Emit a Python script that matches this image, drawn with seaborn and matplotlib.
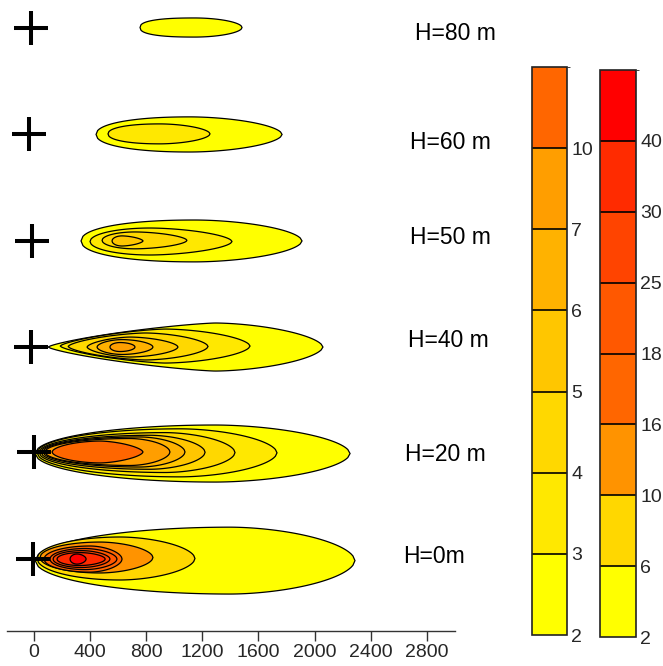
import numpy as np
import matplotlib
matplotlib.use("Agg")
import matplotlib.pyplot as plt
from matplotlib.colors import ListedColormap, BoundaryNorm
from matplotlib.cm import ScalarMappable
import seaborn as sns

sns.set_style("ticks")
plt.rcParams["font.family"] = ["Liberation Sans", "DejaVu Sans"]

# ---------------- data ----------------
labels = ["H=0m", "H=20 m", "H=40 m", "H=50 m", "H=60 m", "H=80 m"]
row_y = [512, 1274, 2021, 2776, 3534, 4295]          # plume axis (m)
source_x = [-4, 0, -18, -13, -32, -18]               # stack position (m)
label_x = [2850, 2929, 2950, 2964, 2964, 3000]
label_y = [527, 1253, 2064, 2797, 3480, 4249]

x_ticks = [0, 400, 800, 1200, 1600, 2000, 2400, 2800]

# colour scales
left_bounds = [2, 3, 4, 5, 6, 7, 10, 14]
left_colors = ["#FFFF00", "#FFE800", "#FFD800", "#FFC600", "#FFB200", "#FF9E00", "#FF6600"]
right_bounds = [2, 6, 10, 16, 18, 25, 30, 40, 50]
right_colors = ["#FFFF00", "#FFD700", "#FF9300", "#FF6600", "#FF5800", "#FF4400", "#FF2B00", "#FF0000"]

# contour shapes: (level, x_start, x_end, x_peak, half_width, y_shift, p_left, p_right)
plume_H0 = [
    (2, 11, 2288, 1399, 238, -11, 2.0, 1.8),
    (6, 25, 1149, 616, 153, 4, 2.0, 1.8),
    (10, 46, 850, 473, 110, 11, 2.0, 1.8),
    (16, 75, 630, 402, 93, 0, 2.0, 1.8),
    (18, 117, 594, 367, 75, 0, 2.0, 1.8),
    (25, 139, 544, 345, 60, 0, 2.0, 1.8),
    (30, 167, 510, 331, 46, 0, 2.0, 1.8),
    (40, 260, 374, 310, 36, 0, 2.0, 1.8),
]
plume_H20 = [
    (2, 11, 2253, 1292, 203, -11, 2.0, 1.8),
    (3, 25, 1733, 1043, 171, -6, 2.0, 1.8),
    (4, 39, 1434, 936, 142, -4, 2.0, 1.8),
    (5, 53, 1221, 829, 121, -2, 2.0, 1.8),
    (6, 68, 1078, 758, 107, 0, 2.0, 1.8),
    (7, 82, 971, 687, 96, 0, 2.0, 1.8),
    (10, 132, 779, 473, 78, 0, 1.8, 1.6),
]
plume_H40 = [
    (2, 103, 2060, 1292, 171, 0, 1.3, 1.7),
    (3, 189, 1541, 936, 121, 7, 1.4, 1.7),
    (4, 246, 1242, 794, 96, 4, 1.5, 1.7),
    (5, 381, 1028, 687, 71, 0, 1.6, 1.7),
    (6, 452, 850, 630, 53, 0, 1.8, 1.8),
    (7, 544, 722, 616, 32, 0, 2.0, 1.9),
]
plume_H50 = [
    (2, 338, 1911, 1149, 149, 0, 2.2, 1.8),
    (3, 402, 1413, 829, 96, -4, 2.0, 1.7),
    (4, 488, 1092, 722, 60, 4, 2.0, 1.7),
    (5, 559, 779, 630, 36, 0, 2.0, 1.6),
]
plume_H60 = [
    (2, 445, 1769, 1114, 125, 0, 2.2, 1.8),
    (3, 530, 1256, 900, 71, 4, 2.2, 1.8),
]
plume_H80 = [
    (2, 758, 1484, 1149, 68, 0, 2.5, 1.9),
]

plumes = [plume_H0, plume_H20, plume_H40, plume_H50, plume_H60, plume_H80]
plume_scale = ["right", "left", "left", "left", "left", "left"]

# ---------------- figure ----------------
W, H = 663, 666
fig = plt.figure(figsize=(W / 100, H / 100), dpi=100)
ax = fig.add_axes([7 / W, 35 / H, 448 / W, 631 / H])


def outline(x0, x1, xp, hw, yc, pl, pr, n=120):
    u = np.linspace(-1, 1, n)
    x = np.where(u < 0, xp + u * (xp - x0), xp + u * (x1 - xp))
    p = np.where(u < 0, pl, pr)
    w = hw * np.clip(1 - np.abs(u) ** p, 0, 1) ** (1 / p)
    xs = np.concatenate([x, x[::-1]])
    ys = np.concatenate([yc + w, (yc - w)[::-1]])
    return xs, ys


for plume, yrow, scale in zip(plumes, row_y, plume_scale):
    bounds = right_bounds if scale == "right" else left_bounds
    cols = right_colors if scale == "right" else left_colors
    for lev, x0, x1, xp, hw, dy, pl, pr in plume:
        xs, ys = outline(x0, x1, xp, hw, yrow + dy, pl, pr)
        ax.fill(xs, ys, facecolor=cols[bounds.index(lev)], edgecolor="black",
                linewidth=0.9, zorder=2)

ax.plot(source_x, row_y, linestyle="none", marker="+", markersize=24.5,
        markeredgewidth=2.9, color="black", zorder=5, clip_on=False)

for lab, lx, ly in zip(labels, label_x, label_y):
    ax.text(lx, ly, lab, ha="center", va="center", fontsize=16.5,
            color="black", clip_on=False)

ax.set_xlim(-189, 3000)
ax.set_ylim(0, 631 * 7.117)
ax.set_xticks(x_ticks)
ax.set_xticklabels([str(t) for t in x_ticks])
ax.set_yticks([])
ax.tick_params(axis="x", direction="out", length=7, width=1, labelsize=14,
               pad=2.5, color="#333333")
sns.despine(ax=ax, left=True, top=True, right=True)
ax.spines["bottom"].set_linewidth(1)
ax.spines["bottom"].set_color("#333333")
ax.set_facecolor("white")


def add_cbar(rect, bounds, colors):
    cax = fig.add_axes(rect)
    cmap = ListedColormap(colors)
    norm = BoundaryNorm(bounds, cmap.N)
    cb = fig.colorbar(ScalarMappable(norm=norm, cmap=cmap), cax=cax,
                      boundaries=bounds, spacing="uniform", drawedges=True,
                      ticks=bounds[:-1])
    cb.ax.set_yticklabels([str(b) for b in bounds[:-1]])
    cb.ax.tick_params(length=0, labelsize=14, pad=3)
    cb.outline.set_linewidth(1.2)
    cb.outline.set_edgecolor("#222222")
    cb.dividers.set_color("black")
    cb.dividers.set_linewidth(1.2)
    return cb


add_cbar([532 / W, (H - 635) / H, 35 / W, 568 / H], left_bounds, left_colors)
add_cbar([600 / W, (H - 637) / H, 36 / W, 567 / H], right_bounds, right_colors)

fig.savefig("out.png", dpi=100)
